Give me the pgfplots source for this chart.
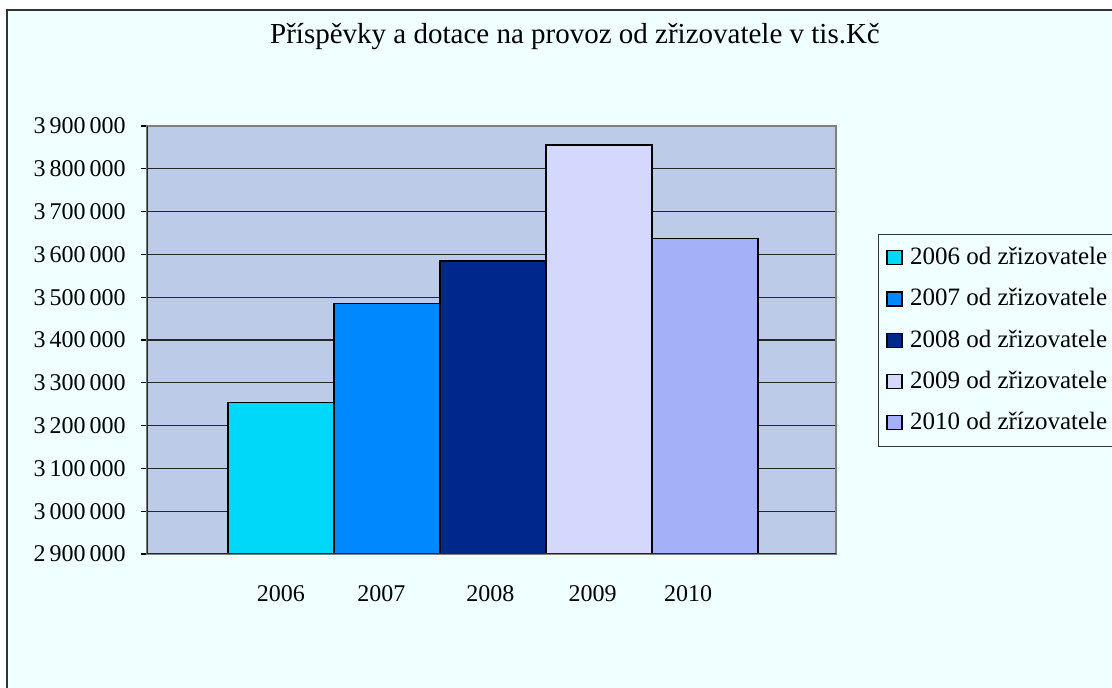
\documentclass[border=0pt,12pt]{standalone}
\usepackage{fontspec}
\setmainfont{Liberation Serif}
\usepackage{pgfplots}
\pgfplotsset{compat=1.18}
\definecolor{outerbg}{HTML}{F0FFFF}
\definecolor{plotbg}{HTML}{BCCCE8}
\definecolor{cA}{HTML}{00D8FA}
\definecolor{cB}{HTML}{0088FF}
\definecolor{cC}{HTML}{00288C}
\definecolor{cD}{HTML}{D4D8FC}
\definecolor{cE}{HTML}{A4B0F8}
\begin{document}
\begin{tikzpicture}
\useasboundingbox (-73.5pt,-67pt) rectangle (482.5pt,277pt);
\fill[white] (-73.5pt,-67pt) rectangle (482.5pt,277pt);
\fill[outerbg] (-70pt,-70pt) rectangle (490pt,272pt);
\draw[black!80,line width=0.8pt] (-70pt,-70pt) -- (-70pt,272pt) -- (490pt,272pt);
\begin{axis}[
  at={(0,0)}, anchor=south west,
  scale only axis,
  width=344.5pt, height=214pt,
  xmin=-1.264, xmax=5.236,
  ymin=2900000, ymax=3900000,
  ytick={2900000,3000000,3100000,3200000,3300000,3400000,3500000,3600000,3700000,3800000,3900000},
  xtick={0,0.948,1.976,2.94,3.84},
  xticklabels={2006,2007,2008,2009,2010},
  xtick style={draw=none},
  xticklabel style={yshift=-8.5pt},
  ytick pos=left,
  ytick style={black, line width=0.6pt},
  major tick length=3pt,
  tick align=outside,
  yticklabel style={xshift=-3.5pt},
  scaled y ticks=false,
  /pgf/number format/.cd, fixed, precision=0, 1000 sep={\,}, assume math mode=true,
  /pgfplots/.cd,
  ymajorgrids,
  grid style={black!85, line width=0.6pt},
  axis line style={gray, line width=0.6pt},
  axis background/.style={fill=plotbg},
  ybar, bar width=1, bar shift=0pt,
  legend style={at={(1.0610,0.7477)}, anchor=north west, draw=black!80, fill=outerbg,
    row sep=6.1pt, inner xsep=4pt, inner ysep=4.5pt, cells={anchor=west}, font=\fontsize{12.5}{14}\selectfont},
  legend image code/.code={\draw[#1,draw=black,line width=0.6pt] (0pt,-3.5pt) rectangle (7.5pt,3.5pt); \path[draw=none,fill=none] (0pt,0pt) -- (9.5pt,0pt);},
]
\addplot[fill=cA, draw=black, line width=0.8pt] coordinates {(0,3254000)};
\addlegendentry{2006 od zřizovatele}
\addplot[fill=cB, draw=black, line width=0.8pt] coordinates {(1,3485000)};
\addlegendentry{2007 od zřizovatele}
\addplot[fill=cC, draw=black, line width=0.8pt] coordinates {(2,3585000)};
\addlegendentry{2008 od zřizovatele}
\addplot[fill=cD, draw=black, line width=0.8pt] coordinates {(3,3856000)};
\addlegendentry{2009 od zřizovatele}
\addplot[fill=cE, draw=black, line width=0.8pt] coordinates {(4,3637000)};
\addlegendentry{2010 od zřízovatele}
\draw[black!85, line width=0.7pt] (rel axis cs:0,1) -- (rel axis cs:0,0) -- (rel axis cs:1,0);
\end{axis}
\node[anchor=center, font=\fontsize{14.5}{17}\selectfont] at (214pt,258.5pt) {Příspěvky a dotace na provoz od zřizovatele v tis.Kč};
\end{tikzpicture}
\end{document}
